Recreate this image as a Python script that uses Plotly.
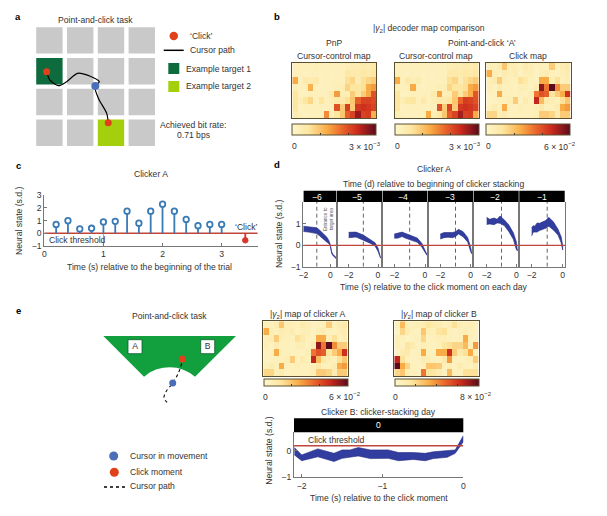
import plotly.graph_objects as go

W, H = 607, 516
FONT = "Liberation Sans"
INK = "#333333"
RED = "#e0401a"
BLUE = "#4a6fb8"
BAND = "#323e9f"
BAND_EDGE = "#232a80"
THRESH = "#c0453a"
AXIS = "#777777"

HEAT_SCALE = [[0, "#fdf6cc"], [0.2, "#fde6a0"], [0.42, "#f9ab45"], [0.6, "#e9642b"],
              [0.78, "#cb2a1c"], [1, "#5c0a1e"]]

# ---- panel a (grid units; one unit = one cell)
grid_cols = [0.5, 1.5, 2.5, 3.5]
grid_rows = [0.5, 1.5, 2.5, 3.5]
target1 = (0.5, 1.5)
target2 = (2.5, 3.5)
path_x = [0.41, 0.52, 0.79, 1.06, 1.41, 1.71, 2.12, 1.98, 2.09, 2.36, 2.41]
path_y = [1.52, 1.79, 1.97, 1.84, 1.57, 1.62, 1.84, 2.00, 2.38, 2.87, 3.17]
cursor_now = (1.99, 1.98)

# ---- panel b / e heat maps, fraction of colour-bar maximum
map_pnp = [
    [.07, .08, .08, .07, .09, .08, .06, .07, .07, .08, .10, .12, .12, .14, .12, .16],
    [.09, .07, .06, .07, .07, .06, .07, .06, .07, .08, .17, .16, .14, .18, .16, .20],
    [.42, .08, .16, .12, .15, .06, .07, .07, .08, .08, .22, .26, .12, .22, .26, .30],
    [.10, .07, .08, .40, .08, .06, .07, .08, .10, .10, .27, .20, .20, .22, .42, .46],
    [.20, .06, .06, .08, .08, .07, .07, .14, .46, .10, .10, .30, .20, .30, .42, .66],
    [.20, .10, .20, .26, .08, .20, .08, .10, .16, .16, .22, .32, .62, .70, .70, .68],
    [.20, .06, .07, .08, .08, .07, .08, .07, .66, .30, .72, .30, .74, .76, .74, .70],
    [.12, .07, .06, .07, .08, .08, .50, .10, .20, .32, .62, .70, .88, .70, .72, .40],
]
map_pac = [
    [.07, .08, .08, .07, .08, .07, .06, .07, .07, .08, .10, .12, .12, .14, .12, .15],
    [.09, .07, .06, .07, .07, .06, .07, .06, .07, .08, .16, .16, .14, .18, .16, .20],
    [.42, .08, .15, .10, .12, .06, .07, .07, .08, .08, .22, .26, .12, .22, .26, .30],
    [.10, .07, .08, .42, .08, .06, .07, .08, .10, .10, .26, .20, .20, .22, .42, .46],
    [.20, .06, .06, .08, .08, .07, .07, .14, .44, .10, .10, .30, .20, .30, .40, .64],
    [.20, .10, .18, .20, .08, .16, .08, .10, .16, .14, .20, .32, .60, .72, .70, .66],
    [.20, .06, .07, .08, .08, .07, .08, .07, .66, .30, .70, .30, .74, .76, .74, .70],
    [.10, .07, .06, .07, .08, .08, .42, .10, .18, .32, .62, .70, .86, .70, .72, .42],
]
map_click_a = [
    [.10, .08, .12, .32, .10, .10, .08, .14, .10, .06, .08, .08, .30, .08, .12, .16],
    [.42, .10, .08, .12, .10, .12, .06, .10, .10, .05, .10, .12, .08, .06, .10, .12],
    [.10, .12, .30, .10, .08, .08, .22, .16, .08, .06, .42, .42, .10, .22, .08, .10],
    [.10, .06, .12, .08, .08, .06, .10, .10, .06, .12, .90, .56, 1.0, .50, .30, .30],
    [.06, .06, .42, .08, .08, .06, .08, .06, .10, .56, .66, .62, .20, .30, .42, .76],
    [.05, .06, .08, .08, .10, .30, .06, .14, .08, .80, .36, .16, .10, .08, .22, .32],
    [.08, .12, .08, .42, .08, .06, .10, .08, .08, .10, .16, .08, .08, .12, .42, .46],
    [.26, .26, .10, .12, .06, .08, .08, .08, .08, .10, .30, .30, .26, .12, .30, .30],
]
map_click_b = [
    [.08, .36, .10, .08, .10, .12, .20, .14, .12, .08, .10, .22, .10, .08, .10, .08],
    [.05, .26, .12, .08, .06, .32, .10, .08, .20, .22, .08, .06, .08, .10, .08, .06],
    [.10, .08, .05, .06, .08, .26, .06, .08, .10, .10, .08, .06, .08, .42, .08, .06],
    [.10, .06, .20, .12, .06, .10, .08, .06, .08, .20, .22, .26, .26, .36, .08, .46],
    [.05, .12, .16, .06, .08, .42, .08, .06, .42, .42, .76, .30, .16, .22, .42, .08],
    [.80, .22, .08, .06, .06, .12, .10, .08, .08, .16, .46, .08, .06, .08, .10, .30],
    [1.0, .42, .26, .08, .06, .08, .32, .32, .30, .08, .10, .06, .12, .08, .06, .12],
    [.26, .32, .10, .08, .06, .56, .20, .20, .12, .06, .36, .06, .08, .22, .22, .22],
]

# ---- panel c
click_times = [0.2, 0.4, 0.6, 0.8, 1.0, 1.2, 1.4, 1.6, 1.8, 2.0, 2.2, 2.4, 2.6, 2.8, 3.0]
click_state = [0.7, 1.0, 0.35, 0.4, 0.9, 0.95, 1.75, 0.8, 1.75, 2.3, 1.75, 1.1, 0.6, 0.7, 0.7]
click_t = 3.4
click_v = -0.55

# ---- panel d
day_labels = ["−6", "−5", "−4", "−3", "−2", "−1"]
d1_t = [-2, -1.6, -1.3, -1, -.8, -.5, -.25, -.1, 0, .1, .2, .42]
d1_up = [.9, .88, .85, .82, .72, .55, .38, .22, .03, -.3, -.42, -.56]
d1_lo = [.65, .62, .6, .55, .45, .3, .15, .08, -.03, -.38, -.48, -.62]
d2_t = [-2, -1.5, -1, -.5, -.2, 0, .1, .18]
d2_up = [.61, .62, .48, .28, .12, -.12, -.38, -.56]
d2_lo = [.36, .39, .25, .09, -.03, -.28, -.46, -.6]
d3_t = [-2, -1.75, -1.5, -1.25, -1, -.5, -.2, 0, .12]
d3_up = [.53, .56, .62, .55, .47, .34, .09, -.2, -.42]
d3_lo = [.33, .34, .41, .33, .25, .14, -.09, -.3, -.46]
d4_t = [-2, -1.75, -1.5, -1.2, -1, -.8, -.5, -.2, 0, .08]
d4_up = [.53, .6, .6, .6, .64, .75, .64, .37, -.1, -.36]
d4_lo = [.3, .36, .38, .36, .41, .53, .4, .16, -.3, -.4]
d5_t = [-2, -1.8, -1.5, -1.3, -1.1, -.8, -.5, -.2, 0, .08]
d5_up = [1.31, 1.22, 1.28, 1.22, 1.37, 1.19, .95, .59, .17, -.2]
d5_lo = [.98, 1.0, .97, 1.05, 1.03, .92, .64, .28, -.19, -.26]
d6_t = [-2, -1.9, -1.8, -1.65, -1.5, -1.3, -1.1, -.9, -.6, -.3, -.1, 0]
d6_up = [.83, .92, .9, 1.05, 1.03, 1.1, 1.16, 1.31, 1.1, .75, .4, 0]
d6_lo = [.44, .62, .64, .62, .69, .75, .8, .9, .72, .48, .12, -.22]
day_bands = [(d1_t, d1_up, d1_lo), (d2_t, d2_up, d2_lo), (d3_t, d3_up, d3_lo),
             (d4_t, d4_up, d4_lo), (d5_t, d5_up, d5_lo), (d6_t, d6_up, d6_lo)]

# ---- panel e schematic
funnel_x = [103.3, 236, 195, 190, 183.3, 176.7, 170, 163.3, 156.7, 150, 144]
funnel_y = [336, 336, 376.7, 373, 369.7, 367.7, 367.2, 367.7, 369.3, 372.3, 376.7]
box_x = [135, 207.7]
box_y = [346.7, 346.7]
box_text = ["A", "B"]
e_path_x = [181.7, 178.3, 172.7, 166, 164, 168.3]
e_path_y = [363.3, 373.3, 383, 391.7, 398.3, 403.3]
e_cursor = (172.7, 383)
e_click = (182.3, 359)

# ---- panel e lower
b_t = [-2.09, -2, -1.8, -1.6, -1.5, -1.4, -1.3, -1.15, -.93, -.8, -.62, -.47, -.37, -.2, -.1, 0]
b_up = [.13, -.15, .08, -.09, .04, .04, .13, .04, .04, -.06, -.06, -.09, -.03, .01, .04, .58]
b_lo = [-.15, -.37, -.22, -.4, -.28, -.24, -.19, -.29, -.28, -.37, -.32, -.37, -.29, -.24, -.09, .35]
threshold_b = 0.2

fig = go.Figure()
layout = {}
annotations = []
shapes = []
n_axes = [0]


def axes(l, r, t, b, xkw, ykw):
    n_axes[0] += 1
    n = n_axes[0]
    sfx = "" if n == 1 else str(n)
    base = dict(showgrid=False, zeroline=False, fixedrange=True, showticklabels=False,
                ticks="", showline=False)
    layout["xaxis" + sfx] = {**base, "domain": [l / W, r / W], "anchor": "y" + sfx, **xkw}
    layout["yaxis" + sfx] = {**base, "domain": [1 - b / H, 1 - t / H], "anchor": "x" + sfx, **ykw}
    return "x" + sfx, "y" + sfx


def text(x, y, s, size=8.6, anchor="center", color=INK, bold=False, angle=0):
    annotations.append(dict(x=x / W, y=1 - y / H, xref="paper", yref="paper", text=("<b>%s</b>" % s) if bold else s,
                            showarrow=False, xanchor=anchor, yanchor="middle", textangle=angle,
                            font=dict(size=size, color=color, family=FONT)))


def box(x0, x1, y0, y1, fill, line=None):
    shapes.append(dict(type="rect", xref="paper", yref="paper", x0=x0 / W, x1=x1 / W, y0=1 - y1 / H, y1=1 - y0 / H,
                       fillcolor=fill, line=dict(width=0 if line is None else 1, color=line or fill), layer="above"))


def heat(l, r, t, b, z, cb_t, cb_b, ticks):
    xa, ya = axes(l, r, t, b,
                  dict(range=[-.5, 15.5], showline=True, mirror=True, linecolor="#5a5030", linewidth=1),
                  dict(range=[7.5, -.5], showline=True, mirror=True, linecolor="#5a5030", linewidth=1))
    fig.add_trace(go.Heatmap(z=z, xaxis=xa, yaxis=ya, colorscale=HEAT_SCALE, zmin=0, zmax=1, xgap=0, ygap=0,
                             hoverinfo="skip", colorbar=dict(
        orientation="h", x=(l + r) / 2 / W, xanchor="center", y=1 - cb_b / H, yanchor="bottom",
        len=r - l, lenmode="pixels", thickness=cb_b - cb_t, thicknessmode="pixels", xpad=0, ypad=0,
        outlinecolor="#5a5030", outlinewidth=1, borderwidth=0, tickmode="array", tickvals=ticks,
        ticks="inside", ticklen=2, tickcolor="#333", showticklabels=False)))


# ---------------- panel a
xa, ya = axes(34, 157.2, 25, 148.2, dict(range=[0, 4]), dict(range=[4, 0]))
gx = [c for r in grid_rows for c in grid_cols]
gy = [r for r in grid_rows for c in grid_cols]
gc = ["#0e6b3e" if (a, b) == target1 else "#a4cf0c" if (a, b) == target2 else "#c9c9c9" for a, b in zip(gx, gy)]
fig.add_trace(go.Scatter(x=gx, y=gy, xaxis=xa, yaxis=ya, mode="markers", hoverinfo="skip",
                         marker=dict(symbol="square", size=26.4, color=gc, line=dict(width=0))))
fig.add_trace(go.Scatter(x=path_x, y=path_y, xaxis=xa, yaxis=ya, mode="lines", hoverinfo="skip",
                         line=dict(color="black", width=1.2, shape="spline", smoothing=0.8)))
fig.add_trace(go.Scatter(x=[path_x[0], path_x[-1]], y=[path_y[0], path_y[-1]], xaxis=xa, yaxis=ya, mode="markers",
                         hoverinfo="skip", marker=dict(size=7, color=RED)))
fig.add_trace(go.Scatter(x=[cursor_now[0]], y=[cursor_now[1]], xaxis=xa, yaxis=ya, mode="markers",
                         hoverinfo="skip", marker=dict(size=8, color=BLUE)))
text(95, 19.7, "Point-and-click task")
shapes.append(dict(type="circle", xref="paper", yref="paper", x0=169.5 / W, x1=178 / W, y0=1 - 40.2 / H, y1=1 - 31.8 / H,
                   fillcolor=RED, line=dict(width=0)))
text(187.7, 36, "‘Click’", anchor="left")
shapes.append(dict(type="line", xref="paper", yref="paper", x0=163.7 / W, x1=183.7 / W, y0=1 - 50.3 / H, y1=1 - 50.3 / H,
                   line=dict(color="black", width=1.5)))
text(187.7, 50.3, "Cursor path", anchor="left")
box(168.3, 179.3, 63, 74, "#0e6b3e")
text(184, 68.7, "Example target 1", anchor="left")
box(168.3, 179.3, 81, 92, "#a4cf0c")
text(184, 86.3, "Example target 2", anchor="left")
text(193.3, 125, "Achieved bit rate:")
text(193.3, 135.3, "0.71 bps")

# ---------------- panel b
heat(292.3, 376.3, 63, 118.3, map_pnp, 127, 138, [0, 1 / 3, 2 / 3, 1])
heat(394.7, 478.7, 63, 118.3, map_pac, 127, 138, [0, 1 / 3, 2 / 3, 1])
heat(486.3, 570.7, 63, 118.3, map_click_a, 127, 138, [0, 1 / 3, 2 / 3, 1])
GAMMA = "|<i>γ</i><sub>2</sub>|"
text(429.3, 29, GAMMA + " decoder map comparison")
text(334.3, 42.7, "PnP")
text(481.7, 42.7, "Point-and-click ‘A’")
text(334, 56, "Cursor-control map")
text(436, 56, "Cursor-control map")
text(528.3, 56, "Click map")
for x0, xr, lab in [(294.7, 383.3, "3 × 10<sup>−3</sup>"), (397, 483.3, "3 × 10<sup>−3</sup>"), (488.7, 577.7, "6 × 10<sup>−2</sup>")]:
    text(x0, 146, "0")
    text(xr, 146, lab, anchor="right")

# ---------------- panel c
xa, ya = axes(44.3, 257.7, 195.3, 246,
              dict(range=[0, 3.61], showline=True, linecolor=AXIS, linewidth=1.2, ticks="inside", ticklen=3, tickcolor=AXIS,
                   tickvals=[0, 1, 2, 3], showticklabels=True, tickfont=dict(size=8.6, color=INK)),
              dict(range=[-1, 3], showline=True, linecolor=AXIS, linewidth=1.2, ticks="inside", ticklen=3, tickcolor=AXIS,
                   tickvals=[-1, 0, 1, 2, 3], ticktext=["−1", "0", "1", "2", "3"], showticklabels=True,
                   tickfont=dict(size=8.6, color=INK)))
fig.add_trace(go.Scatter(x=[0, 3.61], y=[0, 0], xaxis=xa, yaxis=ya, mode="lines", hoverinfo="skip",
                         line=dict(color=THRESH, width=1.5)))
fig.add_trace(go.Scatter(x=[1, 1], y=[-1, 0], xaxis=xa, yaxis=ya, mode="lines", hoverinfo="skip",
                         line=dict(color="#888", width=0.8)))
fig.add_trace(go.Scatter(x=click_times, y=click_state, xaxis=xa, yaxis=ya, mode="markers", hoverinfo="skip",
                         error_y=dict(type="data", symmetric=False, array=[0] * len(click_state),
                                      arrayminus=click_state, color="#3a7ab5", thickness=1.8, width=0),
                         marker=dict(size=5.5, color="white", line=dict(color="#3a7ab5", width=1.8))))
fig.add_trace(go.Scatter(x=[click_t], y=[click_v], xaxis=xa, yaxis=ya, mode="markers", hoverinfo="skip",
                         error_y=dict(type="data", symmetric=False, array=[-click_v], arrayminus=[0],
                                      color="#d9362b", thickness=1.8, width=0),
                         marker=dict(size=5.5, color="#d9362b", line=dict(color="#d9362b", width=1))))
text(150.7, 174, "Clicker A")
text(19, 221, "Neural state (s.d.)", angle=-90)
text(149.7, 266.7, "Time (s) relative to the beginning of the trial")
text(46.7, 240, "Click threshold", anchor="left")
text(246, 226.7, "‘Click’")

# ---------------- panel d
d_left = [303.3, 336.7, 382.3, 427.7, 473.3, 519]
d_right = [336.7, 382.3, 427.7, 473.3, 519, 565]
d_minus2 = [303.3, 348.7, 394.3, 440.3, 486.7, 531.7]
d_zero = [330.3, 378, 425, 470.7, 516.3, 562.7]
d_label_x = [316.7, 356.7, 403.3, 450, 495, 541.7]
for i in range(6):
    l, r, m2, z0 = d_left[i], d_right[i], d_minus2[i], d_zero[i]
    pps = (z0 - m2) / 2
    show_y = i == 0
    xa, ya = axes(l, r, 202, 266.7,
                  dict(range=[(l - z0) / pps, (r - z0) / pps], showline=True, linecolor=AXIS, linewidth=1.2, ticks="inside",
                       ticklen=3, tickcolor=AXIS, tickvals=[-2, 0], ticktext=["−2", "0"], showticklabels=True,
                       tickfont=dict(size=8.6, color=INK)),
                  dict(range=[-1, 2.03], showline=True, mirror=True, linecolor=AXIS, linewidth=1.2,
                       ticks="inside" if show_y else "", ticklen=3, tickcolor=AXIS, tickvals=[-1, 0, 1],
                       ticktext=["−1", "0", "1"], showticklabels=show_y, tickfont=dict(size=8.6, color=INK)))
    t, up, lo = day_bands[i]
    fig.add_trace(go.Scatter(x=[-1, -1], y=[-1, 2.03], xaxis=xa, yaxis=ya, mode="lines", hoverinfo="skip",
                             line=dict(color="#222", width=0.7, dash="4px,3px")))
    fig.add_trace(go.Scatter(x=t + t[::-1], y=up + lo[::-1], xaxis=xa, yaxis=ya, mode="lines", fill="toself",
                             hoverinfo="skip", fillcolor=BAND, line=dict(color=BAND_EDGE, width=0.6)))
    fig.add_trace(go.Scatter(x=[(l - z0) / pps, (r - z0) / pps], y=[0, 0], xaxis=xa, yaxis=ya, mode="lines",
                             hoverinfo="skip", line=dict(color=THRESH, width=1.4)))
    box(l + 0.3, r - 0.3, 190.7, 202, "black")
    text(d_label_x[i], 197, day_labels[i], color="white")
text(433.7, 169, "Clicker A")
text(433.7, 183.7, "Time (d) relative to beginning of clicker stacking")
text(279, 234, "Neural state (s.d.)", angle=-90)
text(434, 287.3, "Time (s) relative to the click moment on each day")
text(328, 219, "Entrance to<br>target area", size=4.6, color="#555", angle=-90)

# ---------------- panel e schematic (axis units are page-scale)
xa, ya = axes(90, 250, 325, 420, dict(range=[90, 250]), dict(range=[420, 325]))
fig.add_trace(go.Scatter(x=funnel_x, y=funnel_y, xaxis=xa, yaxis=ya, mode="lines", fill="toself", hoverinfo="skip",
                         fillcolor="#12a03e", line=dict(color="#12a03e", width=0)))
fig.add_trace(go.Scatter(x=box_x, y=box_y, text=box_text, xaxis=xa, yaxis=ya, mode="markers+text", hoverinfo="skip",
                         textposition="middle center", textfont=dict(size=8.6, color=INK, family=FONT),
                         marker=dict(symbol="square", size=14, color="white", line=dict(color="#0b5f2a", width=0.8))))
fig.add_trace(go.Scatter(x=e_path_x, y=e_path_y, xaxis=xa, yaxis=ya, mode="lines", hoverinfo="skip",
                         line=dict(color="black", width=1.1, dash="3px,3px", shape="spline")))
fig.add_trace(go.Scatter(x=[e_cursor[0]], y=[e_cursor[1]], xaxis=xa, yaxis=ya, mode="markers", hoverinfo="skip",
                         marker=dict(size=7, color=BLUE)))
fig.add_trace(go.Scatter(x=[e_click[0]], y=[e_click[1]], xaxis=xa, yaxis=ya, mode="markers", hoverinfo="skip",
                         marker=dict(size=7, color=RED)))
text(169.3, 316, "Point-and-click task")
shapes.append(dict(type="circle", xref="paper", yref="paper", x0=109.2 / W, x1=118.2 / W, y0=1 - 460.5 / H, y1=1 - 451.5 / H,
                   fillcolor=BLUE, line=dict(width=0)))
shapes.append(dict(type="circle", xref="paper", yref="paper", x0=109.8 / W, x1=118.8 / W, y0=1 - 476.8 / H, y1=1 - 467.8 / H,
                   fillcolor=RED, line=dict(width=0)))
shapes.append(dict(type="line", xref="paper", yref="paper", x0=104 / W, x1=125 / W, y0=1 - 487 / H, y1=1 - 487 / H,
                   line=dict(color="black", width=1.5, dash="3px,3px")))
text(128.3, 456, "Cursor in movement", anchor="left")
text(128.3, 472.3, "Click moment", anchor="left")
text(128.3, 486.3, "Cursor path", anchor="left")

# ---------------- panel e maps
heat(263.3, 347.7, 321.3, 376.3, map_click_a, 381.7, 388.7, [0, 1 / 3, 2 / 3, 1])
heat(394.3, 478.7, 321.3, 376.3, map_click_b, 381.7, 388.7, [0, .25, .5, .75, 1])
text(267.7, 314.3, GAMMA + " map of clicker A", anchor="left")
text(399, 314.3, GAMMA + " map of clicker B", anchor="left")
text(265.7, 396.7, "0")
text(362.7, 396.7, "6 × 10<sup>−2</sup>", anchor="right")
text(395, 396.7, "0")
text(494, 396.7, "8 × 10<sup>−2</sup>", anchor="right")

# ---------------- panel e lower
xa, ya = axes(294, 463.3, 432.3, 477.3,
              dict(range=[-2.095, 0], showline=True, linecolor=AXIS, linewidth=1.2, ticks="inside", ticklen=3, tickcolor=AXIS,
                   tickvals=[-2, -1, 0], ticktext=["−2", "−1", "0"], showticklabels=True,
                   tickfont=dict(size=8.6, color=INK)),
              dict(range=[-1, 0.71], showline=True, linecolor=AXIS, linewidth=1.2, ticks="inside", ticklen=3, tickcolor=AXIS,
                   tickvals=[-1, 0], ticktext=["−1", "0"], showticklabels=True,
                   tickfont=dict(size=8.6, color=INK)))
fig.add_trace(go.Scatter(x=b_t + b_t[::-1], y=b_up + b_lo[::-1], xaxis=xa, yaxis=ya, mode="lines", fill="toself",
                         hoverinfo="skip", fillcolor=BAND, line=dict(color=BAND_EDGE, width=0.6)))
fig.add_trace(go.Scatter(x=[-2.095, 0], y=[threshold_b, threshold_b], xaxis=xa, yaxis=ya, mode="lines", hoverinfo="skip",
                         line=dict(color=THRESH, width=1.4)))
box(294, 463.3, 418.3, 432.3, "black")
text(378.7, 425.3, "0", color="white")
text(336.7, 440.3, "Click threshold")
text(378.7, 411.7, "Clicker B: clicker-stacking day")
text(269, 450.7, "Neural state (s.d.)", angle=-90)
text(379, 497.7, "Time (s) relative to the click moment")

# ---------------- panel letters
for s, x, y in [("a", 18, 16), ("b", 277.3, 16), ("c", 18, 165), ("d", 277.3, 164.3), ("e", 18, 310)]:
    text(x, y, s, size=9.5, color="black", bold=True)

fig.update_layout(width=W, height=H, margin=dict(l=0, r=0, t=0, b=0, autoexpand=False), autosize=False, showlegend=False,
                  paper_bgcolor="white", plot_bgcolor="rgba(0,0,0,0)",
                  font=dict(family=FONT, size=8.6, color=INK),
                  annotations=annotations, shapes=shapes, **layout)
fig.write_html("out.html", config=dict(displayModeBar=False),
               post_script="document.body.style.margin='0';document.documentElement.style.overflow='hidden';")
